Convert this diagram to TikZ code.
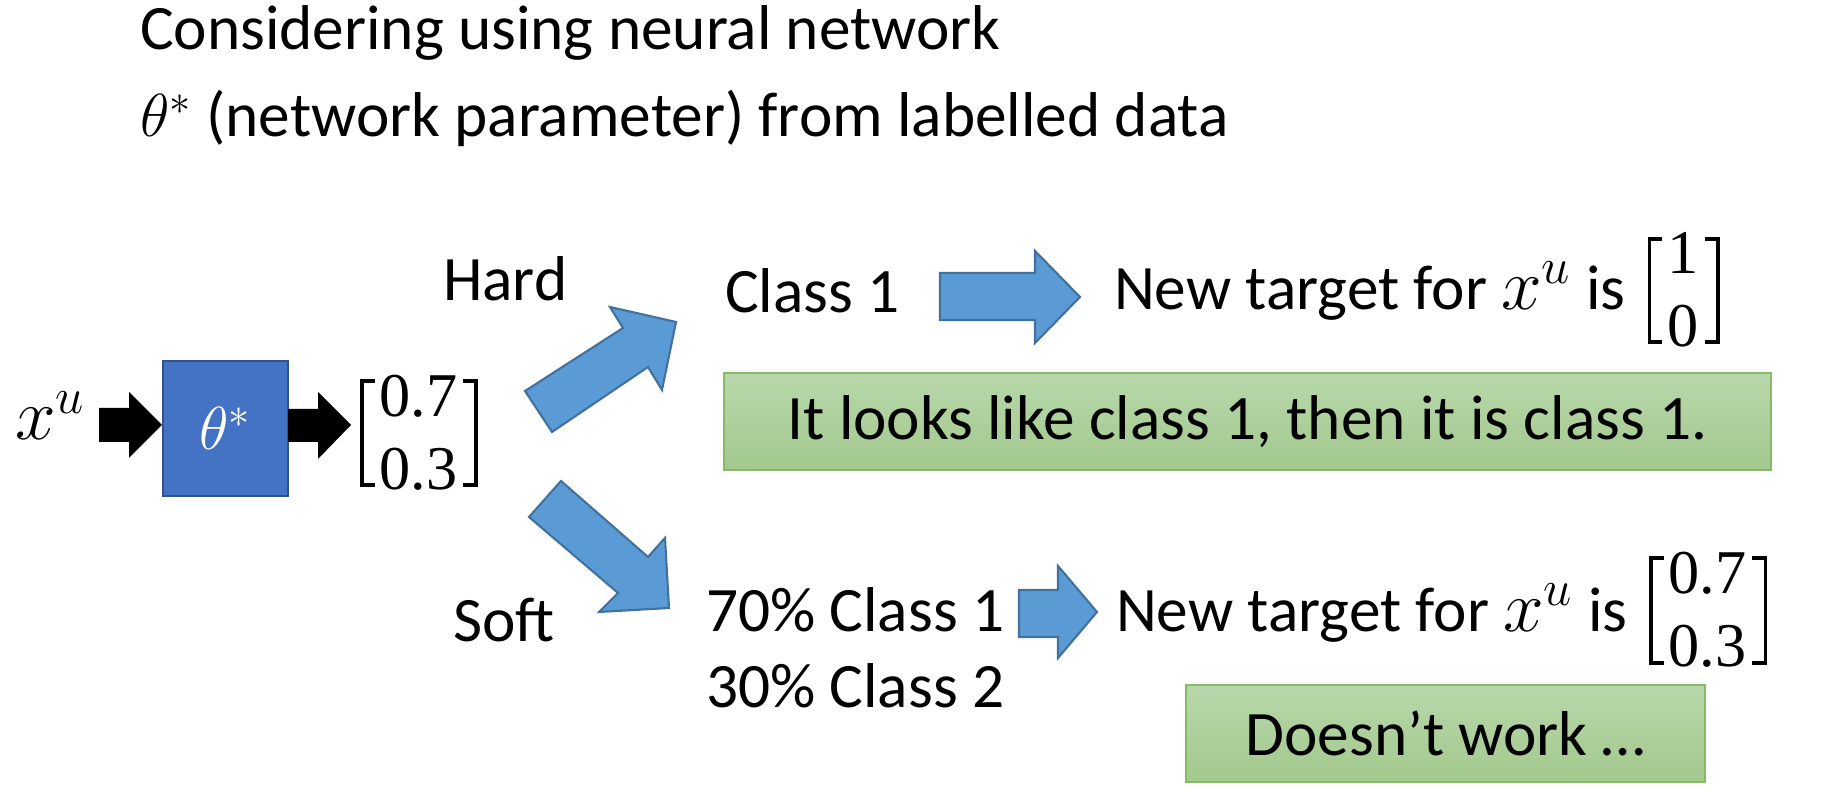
\documentclass[tikz,border=0pt]{standalone}
\usepackage{amsmath}
\usepackage{fontspec}
\setmainfont{Carlito}
\newfontfamily\vecfont{Liberation Serif}
\definecolor{netblue}{HTML}{4472C4}
\definecolor{netedge}{HTML}{2F528F}
\definecolor{arrowblue}{HTML}{5B9BD5}
\definecolor{arrowedge}{HTML}{41719C}
\definecolor{boxtop}{HTML}{B8D7AB}
\definecolor{boxbottom}{HTML}{A3C98D}
\definecolor{boxedge}{HTML}{86BA69}
% x^u set a little larger than the running text
\newcommand{\xsup}{{\fontsize{20.74pt}{24pt}\selectfont$x^u$}}
% square brackets around a column-vector node
\newcommand{\vecbrackets}[1]{%
  \draw[brk] ([xshift=-0.05cm,yshift=-0.06cm]#1.north west) -- ([xshift=-0.18cm,yshift=-0.06cm]#1.north west)
    -- ([xshift=-0.18cm,yshift=0.05cm]#1.south west) -- ([xshift=-0.05cm,yshift=0.05cm]#1.south west);
  \draw[brk] ([xshift=0.06cm,yshift=-0.06cm]#1.north east) -- ([xshift=0.19cm,yshift=-0.06cm]#1.north east)
    -- ([xshift=0.19cm,yshift=0.05cm]#1.south east) -- ([xshift=0.06cm,yshift=0.05cm]#1.south east);}
\begin{document}
\begin{tikzpicture}[x=0.01cm,y=-0.01cm,
  every node/.style={inner sep=0pt, outer sep=0pt, font=\fontsize{18pt}{21.6pt}\selectfont},
  txt/.style={anchor=base west},
  colvec/.style={align=center, font=\vecfont\fontsize{17.7pt}{20.8pt}\selectfont},
  brk/.style={line width=1.1pt, line cap=butt, line join=miter},
  blockarrow/.style={fill=arrowblue, draw=arrowedge, line width=0.6pt, line join=miter},
  fatarrow/.style={fill=black},
  netbox/.style={fill=netblue, draw=netedge, line width=0.5pt, minimum width=1.25cm, minimum height=1.35cm, text=white},
  greenbox/.style={draw=boxedge, line width=0.5pt, top color=boxtop, bottom color=boxbottom}]
\useasboundingbox (0,0) rectangle (1830,798);

% heading
\node[txt] (head1) at (140,50) {Considering using neural network};
\node[txt] (head2) at (140,137) {$\theta^*$ (network parameter) from labelled data};

% network: input, parameters, output
\node[txt] (xin) at (15,440) {\xsup};
\node[netbox] (net) at (225.5,428.5) {$\theta^*$};
\node[colvec] (out) at (418.5,432.5) {0.7\\0.3};
\vecbrackets{out}

\path[fatarrow] (99,408) -- (129,408) -- (129,392) -- (162,425) -- (129,458) -- (129,442) -- (99,442) -- cycle;
\path[fatarrow] (288,409) -- (318,409) -- (318,392) -- (351,425) -- (318,459) -- (318,442) -- (288,442) -- cycle;

% hard / soft branches
\node[txt] (hard) at (443,301) {Hard};
\node[txt] (soft) at (453,642) {Soft};
\draw[blockarrow] (525,391) -- (623,328) -- (610,307) -- (676,322) -- (662,390) -- (648,367) -- (552,432) -- cycle;
\draw[blockarrow] (561,481) -- (648,557) -- (665,538) -- (669,608) -- (599,612) -- (618,593) -- (529,517) -- cycle;

% hard label
\node[txt] (cls1) at (725,313) {Class 1};
\draw[blockarrow] (940,273) -- (1035,273) -- (1035,251) -- (1080,297) -- (1035,343) -- (1035,320) -- (940,320) -- cycle;
\node[txt] (hardtgt) at (1114,310) {New target for \xsup{} is};
\node[colvec] (hardvec) at (1683,290) {1\\0};
\vecbrackets{hardvec}
\node[greenbox, minimum width=10.47cm, minimum height=0.97cm] (hardnote) at (1247.5,421.5) {It looks like class 1, then it is class 1.};

% soft label
\node[txt] (p1) at (706,632) {70\% Class 1};
\node[txt] (p2) at (706,708) {30\% Class 2};
\draw[blockarrow] (1019,590) -- (1058,590) -- (1058,566) -- (1097,612) -- (1058,658) -- (1058,637) -- (1019,637) -- cycle;
\node[txt] (softtgt) at (1116,632) {New target for \xsup{} is};
\node[colvec] (softvec) at (1707.5,610) {0.7\\0.3};
\vecbrackets{softvec}
\node[greenbox, minimum width=5.19cm, minimum height=0.97cm] (softnote) at (1445.5,733.5) {Doesn’t work …};
\end{tikzpicture}
\end{document}
